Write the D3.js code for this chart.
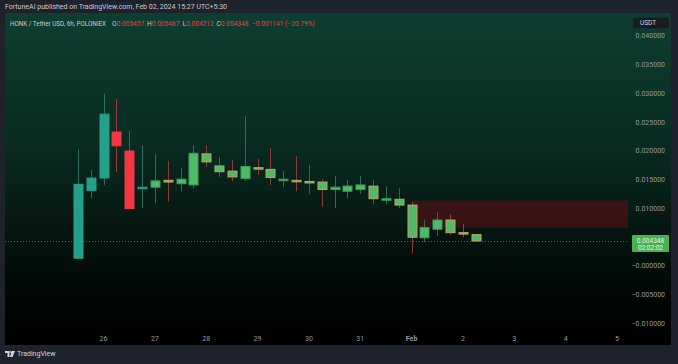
<!DOCTYPE html>
<html>
<head>
<meta charset="utf-8">
<script src="https://cdn.jsdelivr.net/npm/d3@7/dist/d3.min.js"></script>
<style>
  html, body { margin: 0; padding: 0; background: #1e222d; }
  svg { display: block; font-family: Roboto, "Noto Sans", sans-serif; }
</style>
</head>
<body>
<div id="chart"></div>
<script>
// 6h candles, HONK / USDT (Poloniex)
const times = [
  "2024-01-25T12:00Z", "2024-01-25T18:00Z",
  "2024-01-26T00:00Z", "2024-01-26T06:00Z", "2024-01-26T12:00Z", "2024-01-26T18:00Z",
  "2024-01-27T00:00Z", "2024-01-27T06:00Z", "2024-01-27T12:00Z", "2024-01-27T18:00Z",
  "2024-01-28T00:00Z", "2024-01-28T06:00Z", "2024-01-28T12:00Z", "2024-01-28T18:00Z",
  "2024-01-29T00:00Z", "2024-01-29T06:00Z", "2024-01-29T12:00Z", "2024-01-29T18:00Z",
  "2024-01-30T00:00Z", "2024-01-30T06:00Z", "2024-01-30T12:00Z", "2024-01-30T18:00Z",
  "2024-01-31T00:00Z", "2024-01-31T06:00Z", "2024-01-31T12:00Z", "2024-01-31T18:00Z",
  "2024-02-01T00:00Z", "2024-02-01T06:00Z", "2024-02-01T12:00Z", "2024-02-01T18:00Z",
  "2024-02-02T00:00Z", "2024-02-02T06:00Z"
];
const opens  = [0.00135, 0.0131, 0.0153, 0.0233, 0.0200, 0.0136, 0.0137, 0.0149, 0.0143, 0.0141,
                0.0195, 0.0174, 0.0165, 0.0152, 0.0171, 0.0168, 0.0150, 0.0149, 0.0147, 0.0146,
                0.0133, 0.0130, 0.0133, 0.0139, 0.0115, 0.0116, 0.0106, 0.0049, 0.0064, 0.0080,
                0.0058, 0.005457];
const highs  = [0.0203, 0.0167, 0.0300, 0.0290, 0.0235, 0.0209, 0.0195, 0.0183, 0.0171, 0.0210,
                0.0210, 0.0190, 0.0184, 0.0260, 0.0186, 0.0205, 0.0165, 0.0191, 0.0176, 0.0151,
                0.0157, 0.0150, 0.0157, 0.0150, 0.0139, 0.0135, 0.0112, 0.0081, 0.0093, 0.0090,
                0.0073, 0.005467];
const lows   = [0.0013, 0.0118, 0.0141, 0.0163, 0.0100, 0.0101, 0.0109, 0.0112, 0.0130, 0.0135,
                0.0172, 0.0155, 0.0147, 0.0148, 0.0158, 0.0141, 0.0138, 0.0130, 0.0125, 0.0103,
                0.0101, 0.0118, 0.0125, 0.0107, 0.0107, 0.0101, 0.0022, 0.0042, 0.0052, 0.0054,
                0.0050, 0.004212];
const closes = [0.0142, 0.0153, 0.0264, 0.0209, 0.0100, 0.0137, 0.0148, 0.0146, 0.0151, 0.0196,
                0.0181, 0.0164, 0.0155, 0.0173, 0.0170, 0.0154, 0.0151, 0.0148, 0.0146, 0.0133,
                0.0137, 0.0139, 0.0141, 0.0117, 0.0117, 0.0106, 0.0050, 0.0067, 0.0080, 0.0058,
                0.00556, 0.004348];

// supply zone drawn on the chart
const zoneTop = 0.01136, zoneBottom = 0.00666;
const zoneStart = "2024-02-01T00:00Z", zoneEnd = "2024-02-05T06:00Z";

const lastPrice = 0.004348;
const countdown = "02:02:02";

const priceTicks = [0.04, 0.035, 0.03, 0.025, 0.02, 0.015, 0.01, 0.005, 0, -0.005, -0.01];
const priceTickLabels = ["0.040000", "0.035000", "0.030000", "0.025000", "0.020000", "0.015000",
                         "0.010000", "0.005000", "\u22120.000000", "\u22120.005000", "\u22120.010000"];
const dayTicks = ["2024-01-26", "2024-01-27", "2024-01-28", "2024-01-29", "2024-01-30", "2024-01-31",
                  "2024-02-01", "2024-02-02", "2024-02-03", "2024-02-04", "2024-02-05"];
const dayTickLabels = ["26", "27", "28", "29", "30", "31", "Feb", "2", "3", "4", "5"];

const headerText = "FortuneAI published on TradingView.com, Feb 02, 2024 15:27 UTC+5:30";
const symbolText = "HONK / Tether USD, 6h, POLONIEX";
const ohlcLabels = ["O", "H", "L", "C"];
const ohlcValues = ["0.005457", "0.005467", "0.004212", "0.004348"];
const changeText = "\u22120.001141 (\u221220.79%)";

const candles = times.map((t, i) => ({
  t: new Date(t), o: opens[i], h: highs[i], l: lows[i], c: closes[i]
}));

const W = 678, H = 364;
const plot = { left: 5, right: 628, top: 13, bottom: 331 };
const frame = { left: 5, right: 671, top: 13, bottom: 345 };

const svg = d3.select("#chart").append("svg")
  .attr("width", W).attr("height", H);

const defs = svg.append("defs");
const grad = defs.append("linearGradient")
  .attr("id", "bg").attr("x1", 0).attr("y1", 0).attr("x2", 0).attr("y2", 1);
grad.append("stop").attr("offset", "0%").attr("stop-color", "#0e3e31");
grad.append("stop").attr("offset", "40%").attr("stop-color", "#092b21");
grad.append("stop").attr("offset", "80%").attr("stop-color", "#020a07");
grad.append("stop").attr("offset", "100%").attr("stop-color", "#000000");

defs.append("clipPath").attr("id", "plotclip")
  .append("rect")
  .attr("x", plot.left).attr("y", plot.top)
  .attr("width", plot.right - plot.left).attr("height", plot.bottom - plot.top);

// frame + background
svg.append("rect").attr("width", W).attr("height", H).attr("fill", "#1e222d");
svg.append("rect")
  .attr("x", frame.left).attr("y", frame.top)
  .attr("width", frame.right - frame.left).attr("height", frame.bottom - frame.top)
  .attr("fill", "url(#bg)");

// scales
const x = d3.scaleUtc()
  .domain([new Date("2024-01-26T00:00Z"), new Date("2024-02-05T00:00Z")])
  .range([103.5, 617]);
const y = d3.scaleLinear()
  .domain([0, 0.04])
  .range([266, 36]);

const bodyW = 9;

const g = svg.append("g").attr("clip-path", "url(#plotclip)");

// zone
g.append("rect")
  .attr("x", x(new Date(zoneStart)))
  .attr("y", y(zoneTop))
  .attr("width", x(new Date(zoneEnd)) - x(new Date(zoneStart)))
  .attr("height", y(zoneBottom) - y(zoneTop))
  .attr("fill", "#3a1414");

// last price line
g.append("line")
  .attr("x1", plot.left).attr("x2", plot.right)
  .attr("y1", Math.round(y(lastPrice)) + 0.5).attr("y2", Math.round(y(lastPrice)) + 0.5)
  .attr("stroke", "#357a42").attr("stroke-width", 1)
  .attr("stroke-dasharray", "1,2");

// candle colours: older candles in classic teal/red, later ones with green bodies
const styleSwitch = new Date("2024-01-27T00:00Z");
const up = d => d.c >= d.o;
function bodyFill(d) {
  if (d.t < styleSwitch) return up(d) ? "#22a08b" : "#f23645";
  return "#4fbb68";
}
function bodyStroke(d) {
  if (d.t < styleSwitch) return bodyFill(d);
  return up(d) ? "#3f9a5a" : "#c9a066";
}
function wickColor(d) {
  if (d.t < styleSwitch) return up(d) ? "#2a6e5e" : "#a0393f";
  return up(d) ? "#2f6e50" : "#8e3a36";
}

const cg = g.selectAll(".candle")
  .data(candles)
  .enter().append("g")
  .attr("class", "candle");

cg.append("line")
  .attr("x1", d => Math.round(x(d.t)) + 0.5)
  .attr("x2", d => Math.round(x(d.t)) + 0.5)
  .attr("y1", d => y(d.h))
  .attr("y2", d => y(d.l))
  .attr("stroke", wickColor)
  .attr("stroke-width", 1);

cg.append("rect")
  .attr("x", d => Math.round(x(d.t)) + 0.5 - bodyW / 2)
  .attr("y", d => y(Math.max(d.o, d.c)))
  .attr("width", bodyW)
  .attr("height", d => Math.max(1.5, Math.abs(y(d.o) - y(d.c))))
  .attr("fill", bodyFill)
  .attr("stroke", bodyStroke)
  .attr("stroke-width", 1);

// price axis (0.005000 sits under the last-price badge, as in TradingView)
svg.append("g").selectAll("text")
  .data(priceTicks)
  .enter().append("text")
  .attr("x", 665)
  .attr("y", d => y(d))
  .attr("dy", "0.35em")
  .attr("text-anchor", "end")
  .attr("font-size", "7px")
  .attr("fill", "#9598a1")
  .text((d, i) => priceTickLabels[i]);

// time axis
svg.append("g").selectAll("text")
  .data(dayTicks)
  .enter().append("text")
  .attr("x", d => x(new Date(d + "T00:00Z")))
  .attr("y", 339)
  .attr("dy", "0.35em")
  .attr("text-anchor", "middle")
  .attr("font-size", "7px")
  .attr("font-weight", (d, i) => dayTickLabels[i] === "Feb" ? "bold" : "normal")
  .attr("fill", "#9598a1")
  .text((d, i) => dayTickLabels[i]);

// last price label
const ly = y(lastPrice);
svg.append("rect")
  .attr("x", 632).attr("y", ly - 6)
  .attr("width", 37).attr("height", 17)
  .attr("rx", 1)
  .attr("fill", "#4caf50");
svg.append("text")
  .attr("x", 650.5).attr("y", ly - 0.5)
  .attr("dy", "0.35em").attr("text-anchor", "middle")
  .attr("font-size", "6.5px").attr("fill", "#e8f5e9")
  .text(lastPrice.toFixed(6));
svg.append("text")
  .attr("x", 650.5).attr("y", ly + 6.5)
  .attr("dy", "0.35em").attr("text-anchor", "middle")
  .attr("font-size", "6.5px").attr("fill", "#e8f5e9")
  .text(countdown);

// currency badge
svg.append("rect")
  .attr("x", 633).attr("y", 17.5).attr("width", 36).attr("height", 11)
  .attr("rx", 2).attr("fill", "#171b22").attr("stroke", "#2a2e39").attr("stroke-width", 0.5);
svg.append("text")
  .attr("x", 640).attr("y", 23).attr("dy", "0.35em")
  .attr("font-size", "6.5px").attr("fill", "#d1d4dc")
  .text("USDT");

// header
svg.append("text")
  .attr("x", 5).attr("y", 7).attr("dy", "0.35em")
  .attr("font-size", "7px").attr("fill", "#c8cbd2")
  .text(headerText);

// legend line
const legendSize = "6.6px";
svg.append("text")
  .attr("x", 10).attr("y", 23.5).attr("dy", "0.35em")
  .attr("font-size", legendSize).attr("fill", "#c8cbd2")
  .attr("textLength", 96).attr("lengthAdjust", "spacingAndGlyphs")
  .text(symbolText);

const ohlcX = [112, 147, 182.5, 216.5];
ohlcLabels.forEach((lab, i) => {
  const t = svg.append("text")
    .attr("x", ohlcX[i]).attr("y", 23.5).attr("dy", "0.35em")
    .attr("font-size", legendSize);
  t.append("tspan").attr("fill", "#c8cbd2").text(lab);
  t.append("tspan").attr("fill", "#f23645").text(ohlcValues[i]);
});
svg.append("text")
  .attr("x", 252).attr("y", 23.5).attr("dy", "0.35em")
  .attr("font-size", legendSize).attr("fill", "#f23645")
  .text(changeText);

// footer logo
const logo = svg.append("g").attr("transform", "translate(5,351)");
logo.append("path").attr("d", "M0,0 H4.5 V6 H2.5 V2 H0 Z").attr("fill", "#d1d4dc");
logo.append("circle").attr("cx", 5.8).attr("cy", 1).attr("r", 1).attr("fill", "#d1d4dc");
logo.append("path").attr("d", "M7,0 H10 L7.5,6 H4.8 Z").attr("fill", "#d1d4dc");
svg.append("text")
  .attr("x", 17).attr("y", 354).attr("dy", "0.35em")
  .attr("font-size", "7px").attr("fill", "#d1d4dc")
  .text("TradingView");
</script>
</body>
</html>
